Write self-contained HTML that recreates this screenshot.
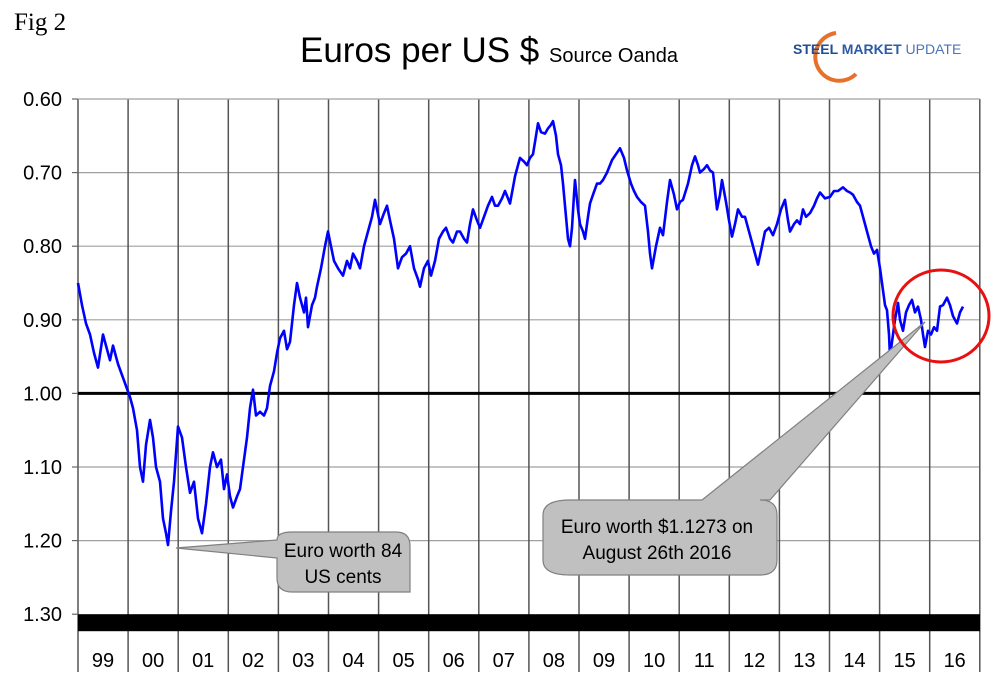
<!DOCTYPE html>
<html><head><meta charset="utf-8"><style>
html,body{margin:0;padding:0;background:#fff;}
body{width:1001px;height:693px;overflow:hidden;font-family:"Liberation Sans",Arial,sans-serif;}
</style></head><body>
<svg id="chart" width="1001" height="693" viewBox="0 0 1001 693" xmlns="http://www.w3.org/2000/svg" font-family="Liberation Sans, Arial, sans-serif">
<text x="14" y="30" font-family="Liberation Serif, serif" font-size="25">Fig 2</text>
<text x="300" y="62" font-size="35">Euros per US $ <tspan font-size="20">Source Oanda</tspan></text>
<g>
<path d="M836,33 A24,24 0 1,0 856,74" fill="none" stroke="#e8702a" stroke-width="4"/>
<text x="793" y="54" font-size="14" font-weight="bold" fill="#1f4e96">STEEL <tspan fill="#2d5aa8">MARKET</tspan> <tspan font-weight="normal" fill="#4a74b8">UPDATE</tspan></text>
</g>
<g id="grid"></g>
<g id="axes"></g>
<g id="series"></g>
<g>
<path d="M292,532 L396,532 Q410,532 410,546 L410,592 L292,592 Q277,592 277,578 L277,558 L176,548 L277,540 Q277,532 292,532 Z" fill="#c0c0c0" stroke="#808080" stroke-width="1.2"/>
<text x="343" y="557" font-size="19" text-anchor="middle">Euro worth 84</text>
<text x="343" y="583" font-size="19" text-anchor="middle">US cents</text>
</g>
<g>
<path d="M570,500 L702,500 L925,322 L770,500 L760,500 Q777,500 777,515 L777,560 Q777,575 760,575 L570,575 Q543,575 543,560 L543,515 Q543,500 570,500 Z" fill="#c0c0c0" stroke="#808080" stroke-width="1.2"/>
<text x="657" y="533" font-size="19" text-anchor="middle">Euro worth $1.1273 on</text>
<text x="657" y="559" font-size="19" text-anchor="middle">August 26th 2016</text>
</g>
<ellipse cx="941" cy="316" rx="48" ry="46" fill="none" stroke="#e81010" stroke-width="3"/>
</svg>
<script>
const yearLabels=["99","00","01","02","03","04","05","06","07","08","09","10","11","12","13","14","15","16"];
const yTicks=[0.60,0.70,0.80,0.90,1.00,1.10,1.20,1.30];
const tYears=[0,.08,.16,.24,.32,.40,.50,.56,.64,.70,.80,.88,.96,1.04,1.10,1.18,1.24,1.30,1.36,1.44,1.50,1.56,1.64,1.70,1.76,1.80,1.86,1.92,2.00,2.08,2.16,2.24,2.32,2.40,2.48,2.56,2.64,2.70,2.78,2.86,2.92,2.98,3.04,3.10,3.18,3.24,3.30,3.38,3.44,3.50,3.56,3.64,3.72,3.78,3.84,3.92,3.98,4.04,4.12,4.18,4.24,4.32,4.38,4.44,4.52,4.56,4.60,4.68,4.74,4.78,4.86,4.94,5.00,5.06,5.12,5.20,5.30,5.38,5.44,5.50,5.58,5.64,5.72,5.80,5.88,5.94,6.04,6.12,6.18,6.24,6.32,6.40,6.48,6.56,6.64,6.72,6.80,6.84,6.92,7.00,7.06,7.14,7.22,7.30,7.36,7.44,7.50,7.58,7.64,7.72,7.78,7.84,7.90,7.98,8.04,8.12,8.20,8.28,8.34,8.40,8.48,8.54,8.60,8.64,8.70,8.74,8.80,8.84,8.92,8.98,9.04,9.10,9.16,9.20,9.26,9.34,9.40,9.46,9.50,9.56,9.60,9.66,9.70,9.76,9.80,9.84,9.88,9.92,9.94,10.00,10.04,10.10,10.14,10.20,10.24,10.30,10.38,10.44,10.50,10.58,10.68,10.76,10.84,10.92,10.98,11.06,11.12,11.18,11.26,11.34,11.40,11.44,11.48,11.56,11.64,11.70,11.78,11.84,11.92,11.98,12.04,12.10,12.20,12.28,12.34,12.40,12.44,12.52,12.58,12.64,12.70,12.78,12.84,12.88,12.96,13.02,13.08,13.14,13.20,13.28,13.34,13.40,13.48,13.54,13.60,13.68,13.74,13.82,13.90,13.98,14.06,14.14,14.20,14.24,14.32,14.38,14.44,14.50,14.56,14.64,14.72,14.78,14.84,14.94,15.04,15.12,15.20,15.30,15.38,15.44,15.50,15.58,15.64,15.72,15.78,15.86,15.92,15.98,16.04,16.08,16.14,16.18,16.22,16.24,16.28,16.34,16.40,16.44,16.50,16.56,16.62,16.68,16.74,16.80,16.86,16.90,16.94,17.00,17.06,17.12,17.18,17.24,17.30,17.38,17.44,17.50,17.58,17.64,17.70];
const rates=[0.85,0.88,0.905,0.92,0.945,0.965,0.92,0.935,0.955,0.935,0.96,0.975,0.99,1.005,1.02,1.05,1.10,1.12,1.07,1.036,1.06,1.10,1.12,1.17,1.19,1.206,1.16,1.12,1.045,1.06,1.10,1.135,1.12,1.17,1.19,1.15,1.10,1.08,1.10,1.09,1.13,1.11,1.14,1.155,1.14,1.13,1.10,1.06,1.02,0.995,1.03,1.025,1.03,1.02,0.99,0.97,0.945,0.925,0.915,0.94,0.93,0.88,0.85,0.87,0.89,0.87,0.91,0.88,0.87,0.855,0.83,0.80,0.78,0.80,0.82,0.83,0.84,0.82,0.83,0.81,0.82,0.83,0.80,0.78,0.76,0.737,0.77,0.755,0.745,0.765,0.79,0.83,0.815,0.81,0.80,0.83,0.845,0.855,0.83,0.82,0.84,0.82,0.79,0.78,0.775,0.79,0.795,0.78,0.78,0.79,0.795,0.77,0.75,0.765,0.775,0.76,0.745,0.733,0.745,0.745,0.735,0.725,0.735,0.742,0.72,0.705,0.69,0.68,0.685,0.69,0.68,0.675,0.65,0.633,0.645,0.647,0.64,0.635,0.63,0.65,0.675,0.69,0.715,0.76,0.79,0.80,0.775,0.73,0.71,0.75,0.77,0.78,0.79,0.76,0.742,0.73,0.715,0.715,0.71,0.70,0.683,0.675,0.667,0.68,0.697,0.715,0.725,0.733,0.74,0.745,0.78,0.81,0.83,0.80,0.775,0.785,0.74,0.71,0.73,0.75,0.74,0.737,0.715,0.69,0.678,0.69,0.70,0.695,0.69,0.697,0.70,0.75,0.73,0.71,0.74,0.765,0.787,0.77,0.75,0.76,0.76,0.775,0.795,0.81,0.825,0.80,0.78,0.775,0.785,0.77,0.75,0.737,0.765,0.78,0.77,0.765,0.77,0.75,0.76,0.755,0.745,0.735,0.727,0.735,0.733,0.725,0.725,0.72,0.725,0.727,0.73,0.74,0.745,0.765,0.78,0.80,0.81,0.805,0.83,0.85,0.88,0.887,0.92,0.95,0.93,0.90,0.877,0.90,0.915,0.89,0.88,0.873,0.89,0.882,0.90,0.92,0.937,0.915,0.92,0.91,0.915,0.882,0.88,0.87,0.88,0.895,0.905,0.89,0.882];
const NS="http://www.w3.org/2000/svg";
const X0=78,YW=50.1,Y0=99,PER=736;
function xYear(i){return X0+i*YW;}
function xT(t){return X0+t*50;}
function yV(v){return Y0+(v-0.60)*PER;}
function mk(tag,attrs,parent){const e=document.createElementNS(NS,tag);for(const k in attrs)e.setAttribute(k,attrs[k]);parent.appendChild(e);return e;}
const gridG=document.getElementById('grid'),axesG=document.getElementById('axes'),seriesG=document.getElementById('series');
yTicks.forEach(v=>{
  const y=yV(v);
  if(v>0.6&&v<1.3&&v!==1.00){const l=mk('line',{x1:X0,x2:980,y1:y,y2:y,stroke:'#a0a0a0','stroke-width':1.2},gridG);
    
    }
  const t=mk('line',{x1:72,x2:X0,y1:y,y2:y,stroke:'#666','stroke-width':1.2},axesG);
  
  
  const tx=mk('text',{x:62,y:y+7,'font-size':20,'text-anchor':'end'},axesG);
  tx.textContent=v.toFixed(2);
  
  
});
for(let i=0;i<=yearLabels.length;i++){
  const x=Math.min(xYear(i),980);
  const l=mk('line',{x1:x,x2:x,y1:Y0,y2:672,stroke:'#555','stroke-width':1.5},gridG);
  
  
}
yearLabels.forEach((lab,i)=>{
  const t=mk('text',{x:xYear(i)+25,y:667,'font-size':20,'text-anchor':'middle'},axesG);
  t.textContent=lab;
  
  
});
const parityLine=mk('line',{x1:X0,x2:980,y1:yV(1.0),y2:yV(1.0),stroke:'#000','stroke-width':3},axesG);


const axisBar=mk('rect',{x:X0,y:yV(1.3),width:902,height:17,fill:'#000'},axesG);


const topLine=mk('line',{x1:X0,x2:980,y1:Y0,y2:Y0,stroke:'#a0a0a0','stroke-width':1.2},gridG);


let d='';
rates.forEach((v,i)=>{d+=(i?'L':'M')+xT(tYears[i]).toFixed(1)+','+yV(v).toFixed(1);});
const rateLine=mk('path',{d:d,fill:'none',stroke:'#0000ff','stroke-width':2.6,'stroke-linejoin':'round'},seriesG);


</script>
</body></html>
